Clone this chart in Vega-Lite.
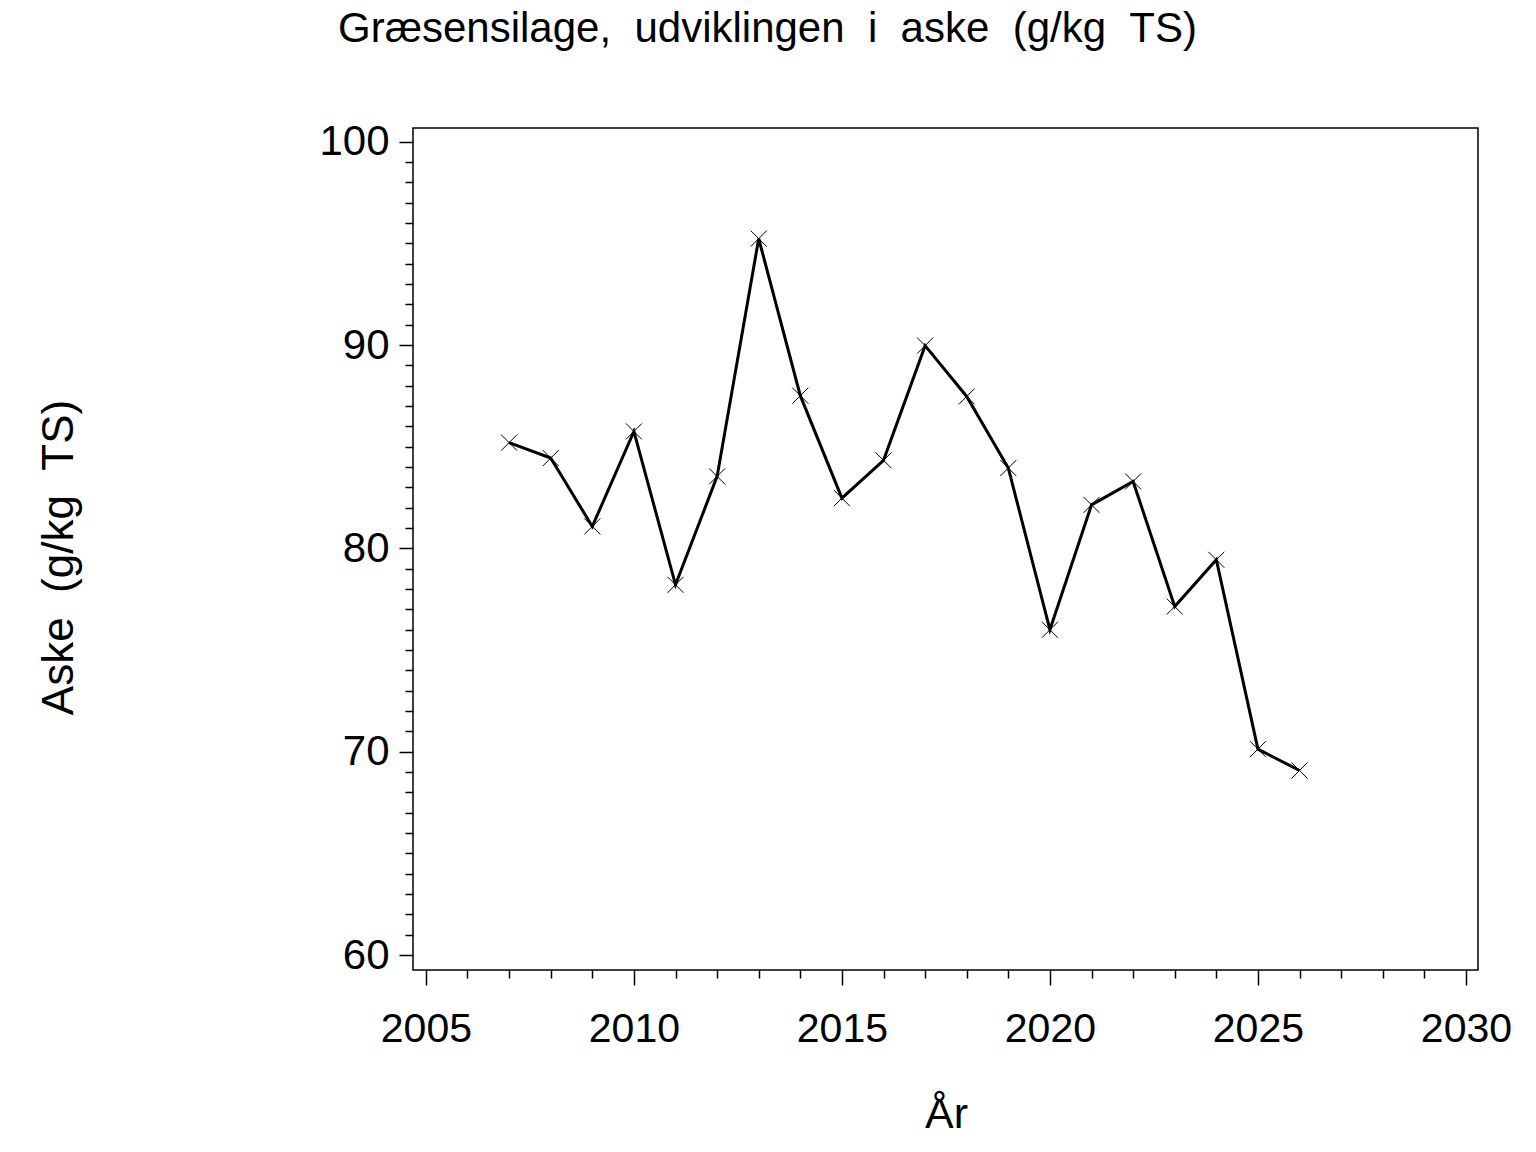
{
  "$schema": "https://vega.github.io/schema/vega-lite/v6.json",
  "width": 1065,
  "height": 842,
  "autosize": "none",
  "padding": {"left": 413, "top": 128, "right": 58, "bottom": 182},
  "background": "white",
  "config": {
    "font": "Liberation Sans",
    "view": {"stroke": "black", "strokeWidth": 1.5},
    "axis": {
      "grid": false,
      "domain": false,
      "tickColor": "black",
      "tickWidth": 1.5,
      "labelColor": "black",
      "titleColor": "black",
      "labelFlush": false,
      "labelOverlap": false,
      "labelBound": false,
      "titleFontWeight": "normal"
    }
  },
  "title": {
    "text": "Græsensilage,\u00a0\u00a0udviklingen\u00a0\u00a0i\u00a0\u00a0aske\u00a0\u00a0(g/kg\u00a0\u00a0TS)",
    "fontSize": 42,
    "fontWeight": "normal",
    "color": "black",
    "anchor": "middle",
    "frame": "group",
    "dx": -178,
    "baseline": "alphabetic",
    "offset": 37
  },
  "data": {
    "values": [
      {"year": 2007, "aske": 85.2},
      {"year": 2008, "aske": 84.44},
      {"year": 2009, "aske": 81.08},
      {"year": 2010, "aske": 85.75},
      {"year": 2011, "aske": 78.21},
      {"year": 2012, "aske": 83.54},
      {"year": 2013, "aske": 95.23},
      {"year": 2014, "aske": 87.51},
      {"year": 2015, "aske": 82.47},
      {"year": 2016, "aske": 84.33},
      {"year": 2017, "aske": 89.97},
      {"year": 2018, "aske": 87.47},
      {"year": 2019, "aske": 83.95},
      {"year": 2020, "aske": 76.0},
      {"year": 2021, "aske": 82.14},
      {"year": 2022, "aske": 83.29},
      {"year": 2023, "aske": 77.14},
      {"year": 2024, "aske": 79.44},
      {"year": 2025, "aske": 70.13},
      {"year": 2026, "aske": 69.08}
    ]
  },
  "encoding": {
    "x": {
      "field": "year",
      "type": "quantitative",
      "scale": {"domain": [2004.69, 2030.29], "nice": false, "zero": false},
      "axis": {
        "values": [2005, 2005.5, 2006, 2006.5, 2007, 2007.5, 2008, 2008.5, 2009, 2009.5, 2010, 2010.5, 2011, 2011.5, 2012, 2012.5, 2013, 2013.5, 2014, 2014.5, 2015, 2015.5, 2016, 2016.5, 2017, 2017.5, 2018, 2018.5, 2019, 2019.5, 2020, 2020.5, 2021, 2021.5, 2022, 2022.5, 2023, 2023.5, 2024, 2024.5, 2025, 2025.5, 2026, 2026.5, 2027, 2027.5, 2028, 2028.5, 2029, 2029.5, 2030],
        "format": "d",
        "labelExpr": "datum.value % 5 === 0 ? datum.label : ''",
        "tickSize": {"condition": {"test": "datum.value % 5 === 0", "value": 15}, "value": 8},
        "labelFontSize": 41,
        "labelBaseline": "alphabetic",
        "labelPadding": 56,
        "title": "År",
        "titleFontSize": 43,
        "titleX": 533,
        "titleY": 157,
        "titleBaseline": "alphabetic"
      }
    },
    "y": {
      "field": "aske",
      "type": "quantitative",
      "scale": {"domain": [59.27, 100.67], "nice": false, "zero": false},
      "axis": {
        "values": [60, 61, 62, 63, 64, 65, 66, 67, 68, 69, 70, 71, 72, 73, 74, 75, 76, 77, 78, 79, 80, 81, 82, 83, 84, 85, 86, 87, 88, 89, 90, 91, 92, 93, 94, 95, 96, 97, 98, 99, 100],
        "format": "d",
        "labelExpr": "datum.value % 10 === 0 ? datum.label : ''",
        "tickSize": {"condition": {"test": "datum.value % 10 === 0", "value": 14}, "value": 8},
        "labelFontSize": 42,
        "labelPadding": 10,
        "title": "Aske\u00a0\u00a0(g/kg\u00a0\u00a0TS)",
        "titleFontSize": 44,
        "titleAngle": 270,
        "titleAlign": "center",
        "titleBaseline": "alphabetic",
        "titleX": -341,
        "titleY": 429
      }
    }
  },
  "layer": [
    {
      "mark": {"type": "line", "color": "black", "strokeWidth": 3}
    },
    {
      "mark": {
        "type": "point",
        "shape": "M-1,-1L1,1M1,-1L-1,1",
        "size": 256,
        "filled": false,
        "color": "black",
        "strokeWidth": 1,
        "opacity": 1
      }
    }
  ]
}
